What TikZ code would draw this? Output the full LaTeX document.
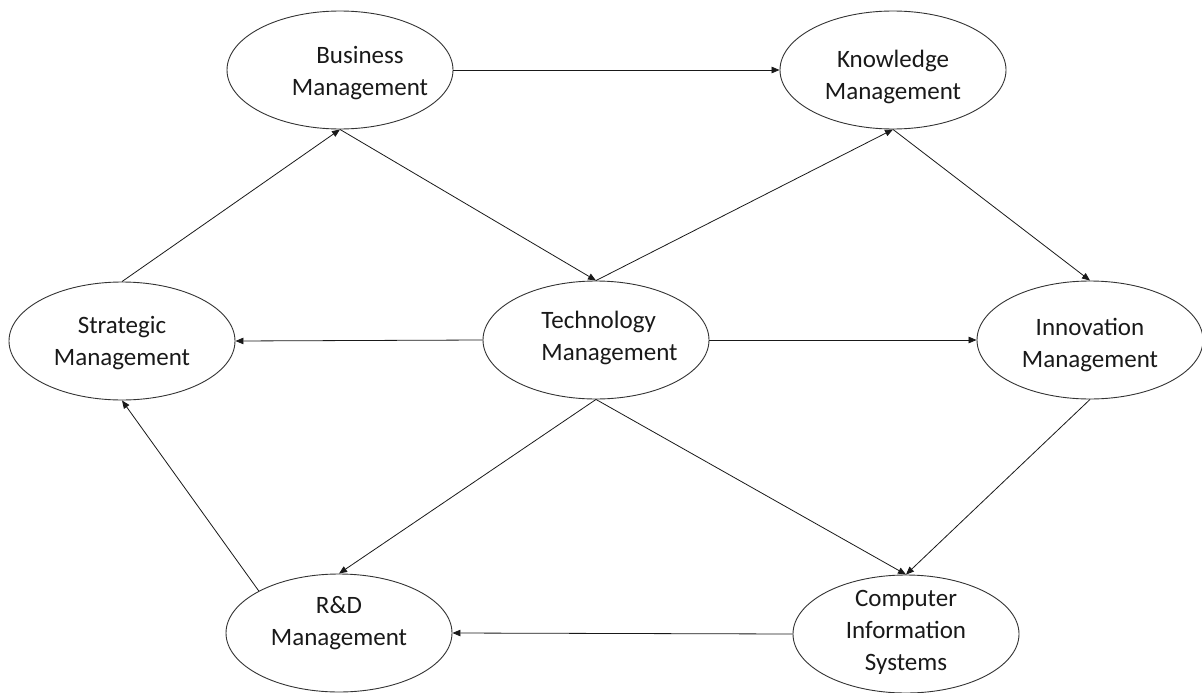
\documentclass[tikz,border=0pt]{standalone}
\usepackage{fontspec}
\setmainfont{Carlito}
\usetikzlibrary{shapes.geometric,arrows.meta}

\tikzset{
  blob/.style={ellipse, draw=black!80, line width=0.9pt, fill=white,
    minimum width=226pt, minimum height=118pt, inner sep=0pt},
  blobtext/.style={font=\fontsize{25}{32}\selectfont, align=center, inner sep=0pt, text=black!90},
  link/.style={draw=black!90, line width=0.8pt, -{Triangle[length=8pt,width=6.5pt]}},
}

\begin{document}
\begin{tikzpicture}[x=1pt, y=-1pt]
  \useasboundingbox (0,0) rectangle (1202,693);

  % fields of management
  \node[blob, label={[blobtext, xshift=20pt, yshift=-3.5pt]center:Business\\Management}] (bm) at (340,70) {};
  \node[blob, label={[blobtext, yshift=-7pt]center:Knowledge\\Management}] (km) at (893,70) {};
  \node[blob, label={[blobtext, yshift=-2pt]center:Strategic\\Management}] (sm) at (122,341) {};
  \node[blob, label={[blobtext, align=left, xshift=13.5pt, yshift=2pt]center:Technology\\Management}] (tm) at (596,340) {};
  \node[blob, label={[blobtext, yshift=-5.5pt]center:Innovation\\Management}] (im) at (1090,340) {};
  \node[blob, label={[blobtext, yshift=10pt]center:R\&D\\Management}] (rd) at (339,633) {};
  \node[blob, label={[blobtext, yshift=1.5pt]center:Computer\\Information\\Systems}] (cis) at (906,634) {};

  % relations
  \draw[link] (bm.east) -- (km.west);
  \draw[link] (sm.north) -- (bm.south);
  \draw[link] (bm.south) -- (tm.north);
  \draw[link] (tm.north) -- (km.south);
  \draw[link] (km.south) -- (im.north);
  \draw[link] (tm.west) -- (sm.east);
  \draw[link] (tm.east) -- (im.west);
  \draw[link] (tm.south) -- (rd.north);
  \draw[link] (tm.south) -- (cis.north);
  \draw[link] (im.south) -- (cis.north);
  \draw[link] (cis.west) -- (rd.east);
  \draw[link] (rd.north west) -- (sm.south);
\end{tikzpicture}
\end{document}
